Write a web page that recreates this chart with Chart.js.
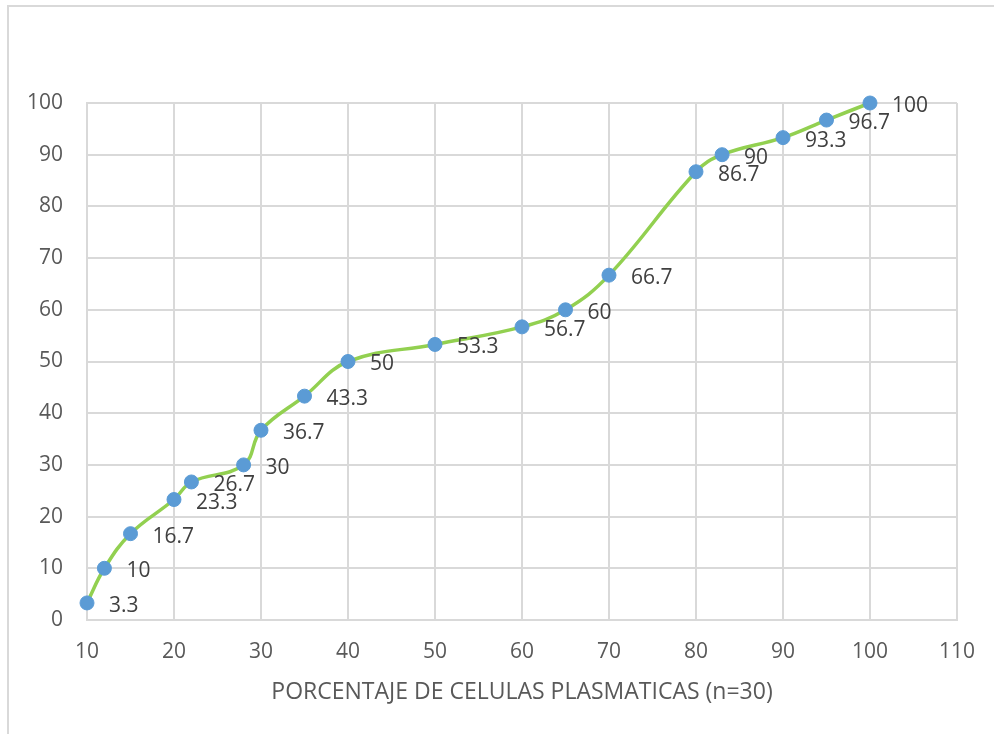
<!DOCTYPE html>
<html>
<head>
<meta charset="utf-8">
<script src="https://cdn.jsdelivr.net/npm/chart.js@4.4.1/dist/chart.umd.min.js"></script>
<style>
  html, body { margin: 0; padding: 0; background: #fff; }
  #wrap { position: relative; width: 994px; height: 734px; }
  #frame { position: absolute; left: 7px; top: 5px; right: 0; bottom: 0; border-top: 2px solid #D9D9D9; border-left: 2px solid #D9D9D9; }
  canvas { position: absolute; left: 0; top: 0; }
</style>
</head>
<body>
<div id="wrap">
  <div id="frame"></div>
  <canvas id="chart" width="994" height="734"></canvas>
</div>
<script>
// porcentaje de celulas plasmaticas vs porcentaje acumulado
let xValues = [10, 12, 15, 20, 22, 28, 30, 35, 40, 50, 60, 65, 70, 80, 83, 90, 95, 100];
let yValues = [3.3, 10, 16.7, 23.3, 26.7, 30, 36.7, 43.3, 50, 53.3, 56.7, 60, 66.7, 86.7, 90, 93.3, 96.7, 100];
let xTicks = [10, 20, 30, 40, 50, 60, 70, 80, 90, 100, 110];
let yTicks = [0, 10, 20, 30, 40, 50, 60, 70, 80, 90, 100];
let xTitle = "PORCENTAJE DE CELULAS PLASMATICAS (n=30)";

let points = xValues.map((x, i) => ({ x: x, y: yValues[i] }));

// etiquetas a la derecha de cada punto
const pointLabels = {
    id: "pointLabels",
    afterDatasetsDraw(chart) {
        let ctx = chart.ctx;
        let meta = chart.getDatasetMeta(0);
        ctx.save();
        ctx.font = "21px 'Open Sans'";
        ctx.fillStyle = "#404040";
        ctx.textAlign = "left";
        ctx.textBaseline = "middle";
        meta.data.forEach((pt, i) => {
            ctx.fillText(String(yValues[i]), pt.x + 22, pt.y + 3);
        });
        ctx.restore();
    }
};

let ctx = document.getElementById("chart").getContext("2d");
new Chart(ctx, {
    type: "scatter",
    data: {
        datasets: [{
            data: points,
            showLine: true,
            clip: false,
            borderColor: "#92D050",
            borderWidth: 3.5,
            tension: 0.4,
            pointRadius: 7,
            pointHoverRadius: 7,
            pointBackgroundColor: "#5B9BD5",
            pointBorderColor: "#5B9BD5",
            pointBorderWidth: 1
        }]
    },
    options: {
        responsive: false,
        animation: false,
        layout: { padding: { left: 0, top: 103, right: 37, bottom: 0 } },
        plugins: {
            legend: { display: false },
            tooltip: { enabled: false }
        },
        scales: {
            x: {
                type: "linear",
                min: 10,
                max: 110,
                afterBuildTicks: (scale) => { scale.ticks = xTicks.map(v => ({ value: v })); },
                afterFit: (scale) => { scale.height = 114; },
                grid: { color: "#D9D9D9", lineWidth: 2, drawTicks: false },
                border: { color: "#D9D9D9", width: 2 },
                ticks: { color: "#595959", font: { family: "Open Sans", size: 21 }, padding: 19 },
                title: {
                    display: true,
                    text: xTitle,
                    color: "#595959",
                    font: { family: "Open Sans", size: 23 },
                    padding: { top: 0, bottom: 28 }
                }
            },
            y: {
                min: 0,
                max: 100,
                afterBuildTicks: (scale) => { scale.ticks = yTicks.map(v => ({ value: v })); },
                afterFit: (scale) => { scale.width = 87; },
                grid: { color: "#D9D9D9", lineWidth: 2, drawTicks: false },
                border: { color: "#D9D9D9", width: 2 },
                ticks: { color: "#595959", font: { family: "Open Sans", size: 21 }, padding: 24 }
            }
        }
    },
    plugins: [pointLabels]
});
</script>
</body>
</html>
